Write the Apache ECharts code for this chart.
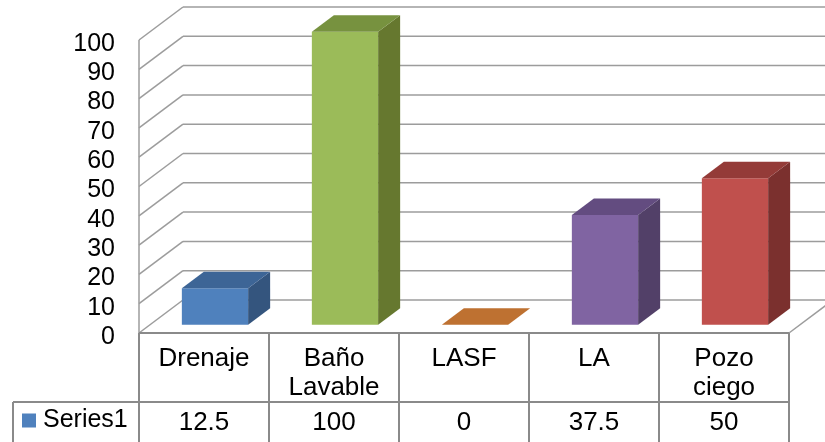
<!DOCTYPE html>
<html>
<head>
<meta charset="utf-8">
<script src="https://cdn.jsdelivr.net/npm/echarts@6/dist/echarts.min.js"></script>
<style>
html,body{margin:0;padding:0;background:#fff;}
#chart{width:825px;height:442px;}
</style>
</head>
<body>
<div id="chart"></div>
<script>
// ---- data ----
const categories = ['Drenaje', 'Baño Lavable', 'LASF', 'LA', 'Pozo ciego'];
const values = [12.5, 100, 0, 37.5, 50];
const yTicks = [0, 10, 20, 30, 40, 50, 60, 70, 80, 90, 100];
const seriesName = 'Series1';

// ---- styles ----
const frontColors = ['#4F81BD', '#9BBB59', '#F79646', '#8064A2', '#C0504D'];
const sideColors  = ['#34557E', '#66782F', '#A0581F', '#524068', '#7B302E'];
const topColors   = ['#3D6596', '#77923F', '#BE7131', '#634C80', '#943B38'];
const DX = 44, DY = 33;
const FONT = '"Liberation Sans", Arial, sans-serif';
const GRID_COLOR = '#9c9c9c';
const TABLE_COLOR = '#8a8a8a';

const chart = echarts.init(document.getElementById('chart'));

function renderFrame(params, api) {
  const cs = params.coordSys;
  const left = cs.x, right = cs.x + cs.width;
  const v = api.value(1);
  const y = api.coord([0, v])[1];
  const gs = {stroke: GRID_COLOR, lineWidth: 1.5};
  const children = [
    {type: 'line', shape: {x1: left + DX, y1: y - DY, x2: right + DX + 40, y2: y - DY}, style: gs},
    {type: 'line', shape: {x1: left, y1: y, x2: left + DX, y2: y - DY}, style: gs}
  ];
  if (params.dataIndex === 0) {
    const yTop = api.coord([0, yTicks[yTicks.length - 1]])[1];
    const y0 = y;
    const bottom = cs.y + cs.height + 120;
    const ts = {stroke: TABLE_COLOR, lineWidth: 2};
    children.push({type: 'line', shape: {x1: left, y1: y0, x2: left, y2: yTop}, style: gs});
    children.push({type: 'line', shape: {x1: right, y1: y0, x2: right + DX, y2: y0 - DY}, style: gs});
    // table
    children.push({type: 'line', shape: {x1: left, y1: y0, x2: right, y2: y0}, style: ts});
    const colW = cs.width / categories.length;
    for (let i = 0; i <= categories.length; i++) {
      const x = left + i * colW;
      children.push({type: 'line', shape: {x1: x, y1: y0, x2: x, y2: bottom}, style: ts});
    }
    const rowY = y0 + 69;
    children.push({type: 'line', shape: {x1: left - 126, y1: rowY, x2: right, y2: rowY}, style: ts});
    children.push({type: 'line', shape: {x1: left - 126, y1: rowY, x2: left - 126, y2: bottom}, style: ts});
  }
  return {type: 'group', children: children};
}

function renderBar(params, api) {
  const idx = api.value(0);
  const val = api.value(1);
  const base = api.coord([idx, 0]);
  const top = api.coord([idx, val]);
  const w = api.size([1, 0])[0] * 0.51;
  const qx = DX / 4, qy = DY / 4, hx = DX / 2, hy = DY / 2;
  const x0 = base[0] - w / 2 + qx, x1 = x0 + w;
  const yb = base[1] - qy, yt = top[1] - qy;
  const i = params.dataIndex;
  return {
    type: 'group',
    children: [
      {type: 'rect', shape: {x: x0, y: yt, width: w, height: yb - yt}, style: {fill: frontColors[i]}},
      {type: 'polygon', shape: {points: [[x1, yb], [x1 + hx, yb - hy], [x1 + hx, yt - hy], [x1, yt]]}, style: {fill: sideColors[i]}},
      {type: 'polygon', shape: {points: [[x0, yt], [x1, yt], [x1 + hx, yt - hy], [x0 + hx, yt - hy]]}, style: {fill: topColors[i]}}
    ]
  };
}

const option = {
  backgroundColor: '#ffffff',
  animation: false,
  textStyle: {fontFamily: FONT},
  grid: {left: 139, right: 36, top: 40, bottom: 109, containLabel: false},
  legend: {
    data: [seriesName], left: 22, top: 408, padding: 0, itemWidth: 14, itemHeight: 14, itemGap: 6,
    icon: 'rect', selectedMode: false,
    textStyle: {fontSize: 25, color: '#000', fontFamily: FONT, padding: [0, 0, 0, 2]}
  },
  xAxis: [
    {
      type: 'category', data: categories, position: 'bottom',
      axisLine: {show: false}, axisTick: {show: false}, splitLine: {show: false},
      axisLabel: {
        fontSize: 26, color: '#000', fontFamily: FONT, lineHeight: 29, margin: 11, interval: 0,
        formatter: (v) => v.replace(' ', '\n')
      }
    },
    {
      type: 'category', data: categories, position: 'bottom', offset: 69,
      axisLine: {show: false}, axisTick: {show: false}, splitLine: {show: false},
      axisLabel: {
        fontSize: 26, color: '#000', fontFamily: FONT, lineHeight: 26, margin: 8, interval: 0,
        formatter: (v, i) => String(values[i])
      }
    }
  ],
  yAxis: {
    type: 'value', min: 0, max: 100, interval: 10,
    axisLine: {show: false}, axisTick: {show: false}, splitLine: {show: false},
    axisLabel: {fontSize: 25, color: '#000', fontFamily: FONT, margin: 24, verticalAlign: 'top', lineHeight: 8}
  },
  series: [
    {
      type: 'custom', name: 'frame', xAxisIndex: 0, renderItem: renderFrame,
      data: yTicks.map(t => [0, t]), encode: {x: 0, y: 1}, silent: true, z: 1
    },
    {
      type: 'custom', name: seriesName, xAxisIndex: 0, renderItem: renderBar,
      itemStyle: {color: '#4F81BD'},
      data: values.map((v, i) => [i, v]), encode: {x: 0, y: 1}, z: 2
    }
  ]
};
chart.setOption(option);
</script>
</body>
</html>
